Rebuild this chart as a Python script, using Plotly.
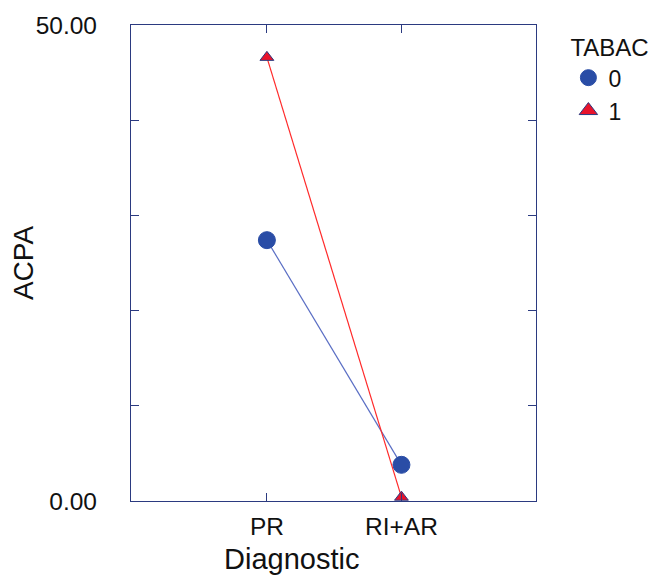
import plotly.graph_objects as go

categories = ["PR", "RI+AR"]
tabac0 = [27.4, 3.8]
tabac1 = [46.6, 0.4]
y_tick_vals = [0, 10, 20, 30, 40, 50]
y_tick_text = ["0.00", "", "", "", "", "50.00"]

axis_color = "#2b3a80"
blue_marker = "#2a4da6"
red_marker = "#e8132b"

fig = go.Figure()
fig.add_trace(go.Scatter(
    x=categories, y=tabac0, name="0", mode="lines+markers", showlegend=False,
    line=dict(color="#5a6ec4", width=1.2),
    marker=dict(symbol="circle", size=17, color=blue_marker, line=dict(color=blue_marker, width=1)),
))
fig.add_trace(go.Scatter(
    x=categories, y=tabac1, name="1", mode="lines+markers", showlegend=False,
    line=dict(color="#ff2a2a", width=1.2),
    marker=dict(symbol="triangle-up", size=12, color=red_marker, line=dict(color=axis_color, width=1)),
))
# legend-only entries (marker only, as in the reference)
fig.add_trace(go.Scatter(
    x=[None], y=[None], name="0", mode="markers",
    marker=dict(symbol="circle", size=21, color=blue_marker, line=dict(color=blue_marker, width=1)),
))
fig.add_trace(go.Scatter(
    x=[None], y=[None], name="1", mode="markers",
    marker=dict(symbol="triangle-up", size=17, color=red_marker, line=dict(color=axis_color, width=1)),
))

fig.update_layout(
    width=657, height=576,
    margin=dict(l=123, r=129, t=17, b=83),
    plot_bgcolor="white", paper_bgcolor="white",
    font=dict(family="Liberation Sans, Arial, sans-serif", color="#111111"),
    showlegend=True,
    legend=dict(
        title=dict(text="TABAC", font=dict(size=24)),
        font=dict(size=23),
        x=1.08, xanchor="left", y=1.0, yanchor="top",
        tracegroupgap=0, itemsizing="trace",
    ),
    xaxis=dict(
        type="category", range=[-1.01, 2.0],
        showline=True, linecolor=axis_color, linewidth=1.3, mirror="allticks",
        ticks="inside", ticklen=8, tickcolor=axis_color, tickwidth=1.3,
        showgrid=False, zeroline=False,
        tickfont=dict(size=24.5), ticklabelstandoff=3,
        automargin=False,
    ),
    yaxis=dict(
        range=[0, 50],
        tickvals=y_tick_vals, ticktext=y_tick_text,
        showline=True, linecolor=axis_color, linewidth=1.3, mirror="allticks",
        ticks="inside", ticklen=8, tickcolor=axis_color, tickwidth=1.3,
        showgrid=False, zeroline=False,
        tickfont=dict(size=24.5), ticklabelstandoff=28,
        title=dict(text="ACPA", font=dict(size=28), standoff=2),
        automargin=False,
    ),
    annotations=[dict(
        text="Diagnostic", xref="paper", yref="paper",
        x=0.397, y=-0.121, xanchor="center", yanchor="middle",
        showarrow=False, font=dict(size=29, color="#111111"),
    )],
)

fig.write_html("out.html")
